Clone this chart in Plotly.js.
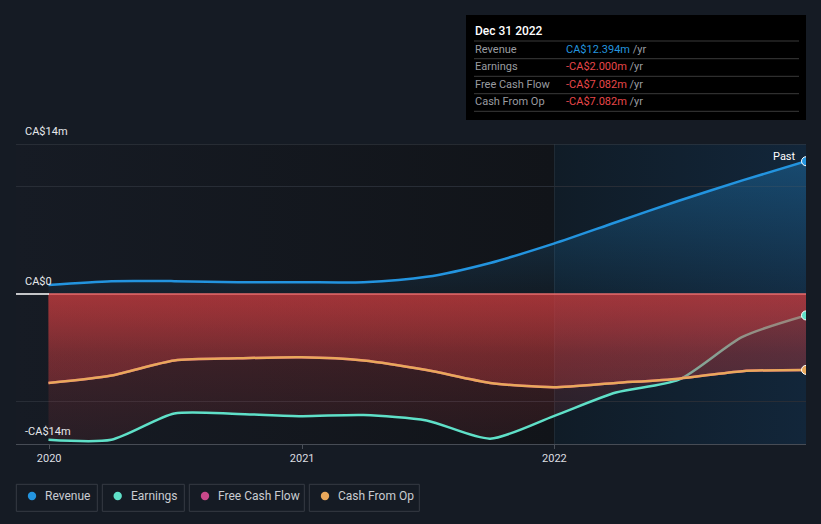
<!DOCTYPE html>
<html><head><meta charset="utf-8">
<script src="https://cdn.plot.ly/plotly-3.0.1.min.js"></script>
<style>html,body{margin:0;padding:0;background:#151b24;}#chart{width:821px;height:524px;}</style>
</head><body><div id="chart"></div>
<script>
// ---- data (CA$ millions, trailing twelve months) ----
const dates = ['2019-12-31','2020-03-31','2020-06-30','2020-09-30','2020-12-31','2021-03-31','2021-06-30','2021-09-30','2021-12-31','2022-03-31','2022-06-30','2022-09-30','2022-12-31'];
const revenue = [0.85, 1.2, 1.2, 1.1, 1.1, 1.1, 1.6, 2.9, 4.7, 6.7, 8.7, 10.6, 12.394];
const earnings = [-13.6, -13.6, -11.15, -11.2, -11.4, -11.3, -11.8, -13.5, -11.4, -9.2, -8.0, -4.0, -2.0];
const freeCashFlow = [-8.3, -7.6, -6.2, -6.0, -5.9, -6.2, -7.1, -8.3, -8.7, -8.3, -7.9, -7.2, -7.082];
const cashFromOp = [-8.3, -7.6, -6.2, -6.0, -5.9, -6.2, -7.1, -8.3, -8.7, -8.3, -7.9, -7.2, -7.082];
const seriesNames = ['Revenue', 'Earnings', 'Free Cash Flow', 'Cash From Op'];
const seriesColors = ['#2394df', '#5fe0c8', '#c8488a', '#e9a85b'];
const yearTicks = ['2020-01-01', '2021-01-01', '2022-01-01'];
const yearLabels = ['2020', '2021', '2022'];
const yLabelVals = [14, 0, -14];
const yLabelText = ['CA$14m', 'CA$0', '-CA$14m'];
const tooltipTitle = 'Dec 31 2022';
const xStart = '2019-11-14';
const pastStart = '2022-01-01';

// ---- helpers ----
const W = 821, H = 524, L = 16, R = 15, T = 144, B = 80;
const pw = W - L - R, ph = H - T - B;
const px = x => (x - L) / pw;          // pixel -> paper x
const py = y => (H - B - y) / ph;      // pixel -> paper y
const last = a => a[a.length - 1];
const fmt = v => (v < 0 ? '-' : '') + 'CA$' + Math.abs(v).toFixed(3) + 'm';

// background gradient image for plot area
const t0 = Date.parse(xStart), t1 = Date.parse(last(dates)), tp = Date.parse(pastStart);
const split = Math.round((tp - t0) / (t1 - t0) * pw);
const cv = document.createElement('canvas'); cv.width = pw; cv.height = ph;
const ctx = cv.getContext('2d');
const g1 = ctx.createLinearGradient(0, 0, split, 0);
g1.addColorStop(0, '#161b24'); g1.addColorStop(1, '#111419');
ctx.fillStyle = g1; ctx.fillRect(0, 0, split, ph);
const g2 = ctx.createLinearGradient(split, 0, pw, 0);
g2.addColorStop(0, '#101c27'); g2.addColorStop(1, '#12263a');
ctx.fillStyle = g2; ctx.fillRect(split, 0, pw - split, ph);
const bgImage = cv.toDataURL();

const redGrad = {type: 'vertical', start: -14, stop: 0,
  colorscale: [[0, 'rgba(200,60,63,0.10)'], [0.6, 'rgba(200,60,63,0.22)'], [1, 'rgba(200,60,63,0.40)']]};
const lineStyle = c => ({color: c, width: 2.5, shape: 'spline', smoothing: 0.7});

const traces = [
  {x: dates, y: revenue, type: 'scatter', mode: 'lines', fill: 'tozeroy',
   fillgradient: {type: 'vertical', start: 0, stop: 14,
     colorscale: [[0, 'rgba(35,148,223,0.06)'], [1, 'rgba(35,148,223,0.36)']]},
   line: lineStyle(seriesColors[0]), hoverinfo: 'skip'},
  {x: dates, y: earnings, type: 'scatter', mode: 'lines', fill: 'tozeroy', fillgradient: redGrad,
   line: lineStyle(seriesColors[1]), hoverinfo: 'skip'},
  {x: dates, y: freeCashFlow, type: 'scatter', mode: 'lines', fill: 'tozeroy', fillgradient: redGrad,
   line: lineStyle(seriesColors[2]), hoverinfo: 'skip'},
  {x: dates, y: cashFromOp, type: 'scatter', mode: 'lines', fill: 'tozeroy', fillgradient: redGrad,
   line: lineStyle(seriesColors[3]), hoverinfo: 'skip'},
  {x: [dates[0], last(dates)], y: [0, 0], type: 'scatter', mode: 'lines',
   line: {color: 'rgba(236,112,112,0.95)', width: 1.5}, hoverinfo: 'skip'},
  {x: [last(dates), last(dates), last(dates)], y: [last(revenue), last(earnings), last(cashFromOp)],
   type: 'scatter', mode: 'markers',
   marker: {size: 9, color: [seriesColors[0], seriesColors[1], seriesColors[3]], line: {color: '#ffffff', width: 1}},
   hoverinfo: 'skip'}
];

const shapes = [
  {type: 'line', xref: 'x', yref: 'paper', x0: pastStart, x1: pastStart, y0: 0, y1: 1,
   line: {color: 'rgba(255,255,255,0.07)', width: 1}, layer: 'below'},
  {type: 'line', xref: 'paper', yref: 'y', x0: 0, x1: 1, y0: 14, y1: 14,
   line: {color: '#3b4049', width: 1}, layer: 'below'},
  {type: 'line', xref: 'paper', yref: 'paper', x0: 0, x1: px(49), y0: py(294), y1: py(294),
   line: {color: '#ffffff', width: 1.5}, layer: 'above'},
  // tooltip box
  {type: 'rect', xref: 'paper', yref: 'paper', x0: px(466), x1: px(806), y0: py(120), y1: py(15),
   fillcolor: '#000000', line: {width: 0}, layer: 'above'}
];
[41, 58.7, 76.3, 93.7, 111.3].forEach(yy => shapes.push(
  {type: 'line', xref: 'paper', yref: 'paper', x0: px(474), x1: px(799), y0: py(yy), y1: py(yy),
   line: {color: '#3a3a3a', width: 1}, layer: 'above'}));

const annotations = [];
yLabelVals.forEach((v, i) => annotations.push({
  xref: 'paper', yref: 'y', x: px(23), y: v, xanchor: 'left', yanchor: 'bottom', yshift: 4,
  text: yLabelText[i], showarrow: false, font: {size: 11, color: '#e6e8eb'}}));

annotations.push({xref: 'x', yref: 'y', x: last(dates), y: last(revenue), xanchor: 'right', yanchor: 'middle',
  xshift: -8, yshift: 5, text: 'Past', showarrow: false, font: {size: 11, color: '#ffffff'}});

// tooltip text
annotations.push({xref: 'paper', yref: 'paper', x: px(473), y: py(31), xanchor: 'left', yanchor: 'middle',
  text: tooltipTitle, showarrow: false, font: {size: 12, color: '#ffffff', weight: 500}});
const tipValues = [last(revenue), last(earnings), last(freeCashFlow), last(cashFromOp)];
const rowY = [49, 66.7, 84.3, 101.7];
seriesNames.forEach((n, i) => {
  annotations.push({xref: 'paper', yref: 'paper', x: px(473), y: py(rowY[i]), xanchor: 'left', yanchor: 'middle',
    text: n, showarrow: false, font: {size: 11, color: '#9a9ca0'}});
  const col = tipValues[i] < 0 ? '#e8474a' : '#2394df';
  annotations.push({xref: 'paper', yref: 'paper', x: px(564), y: py(rowY[i]), xanchor: 'left', yanchor: 'middle',
    text: '<span style="color:' + col + '">' + fmt(tipValues[i]) + '</span> <span style="color:#9a9ca0">/yr</span>',
    showarrow: false, font: {size: 11}});
});

// legend: boxes, dots, labels
const legBoxes = [[16.3, 97.3], [102.3, 184.3], [189.3, 304.3], [309.3, 419.3]];
const legDots = [32, 117.7, 205, 325];
const legText = [44.3, 130, 217, 337];
seriesNames.forEach((n, i) => {
  const [a, b] = legBoxes[i];
  shapes.push({type: 'rect', xref: 'paper', yref: 'paper', x0: px(a), x1: px(b), y0: py(511.3), y1: py(484.3),
    line: {color: '#363b44', width: 1}, fillcolor: 'rgba(0,0,0,0)', layer: 'above'});
  shapes.push({type: 'circle', xref: 'paper', yref: 'paper', x0: px(legDots[i] - 4.2), x1: px(legDots[i] + 4.2),
    y0: py(500.2), y1: py(491.8), fillcolor: seriesColors[i], line: {width: 0}, layer: 'above'});
  annotations.push({xref: 'paper', yref: 'paper', x: px(legText[i] - 1), y: py(496), xanchor: 'left', yanchor: 'middle',
    text: n, showarrow: false, font: {size: 12, color: '#c9ccd1'}});
});

const layout = {
  width: W, height: H,
  margin: {l: L, r: R, t: T, b: B},
  paper_bgcolor: '#151b24', plot_bgcolor: '#151b24',
  font: {family: 'Roboto, "Open Sans", sans-serif', color: '#d8dadd', size: 11},
  showlegend: false,
  xaxis: {type: 'date', range: [xStart, last(dates)], tickvals: yearTicks, ticktext: yearLabels,
    showgrid: false, zeroline: false, ticks: 'outside', ticklen: 4, tickcolor: '#4a4f58',
    tickfont: {size: 11, color: '#dcdee1'}, showline: true, linecolor: '#474c55', linewidth: 1, fixedrange: true},
  yaxis: {range: [-14, 14], tickvals: [-10, 10], showticklabels: false, gridcolor: '#282d36', gridwidth: 1,
    zeroline: false, showline: false, fixedrange: true},
  images: [{source: bgImage, xref: 'paper', yref: 'paper', x: 0, y: 1, sizex: 1, sizey: 1,
    sizing: 'stretch', xanchor: 'left', yanchor: 'top', layer: 'below'}],
  shapes: shapes,
  annotations: annotations
};

Plotly.newPlot('chart', traces, layout, {displayModeBar: false, staticPlot: true});
</script>
</body></html>
